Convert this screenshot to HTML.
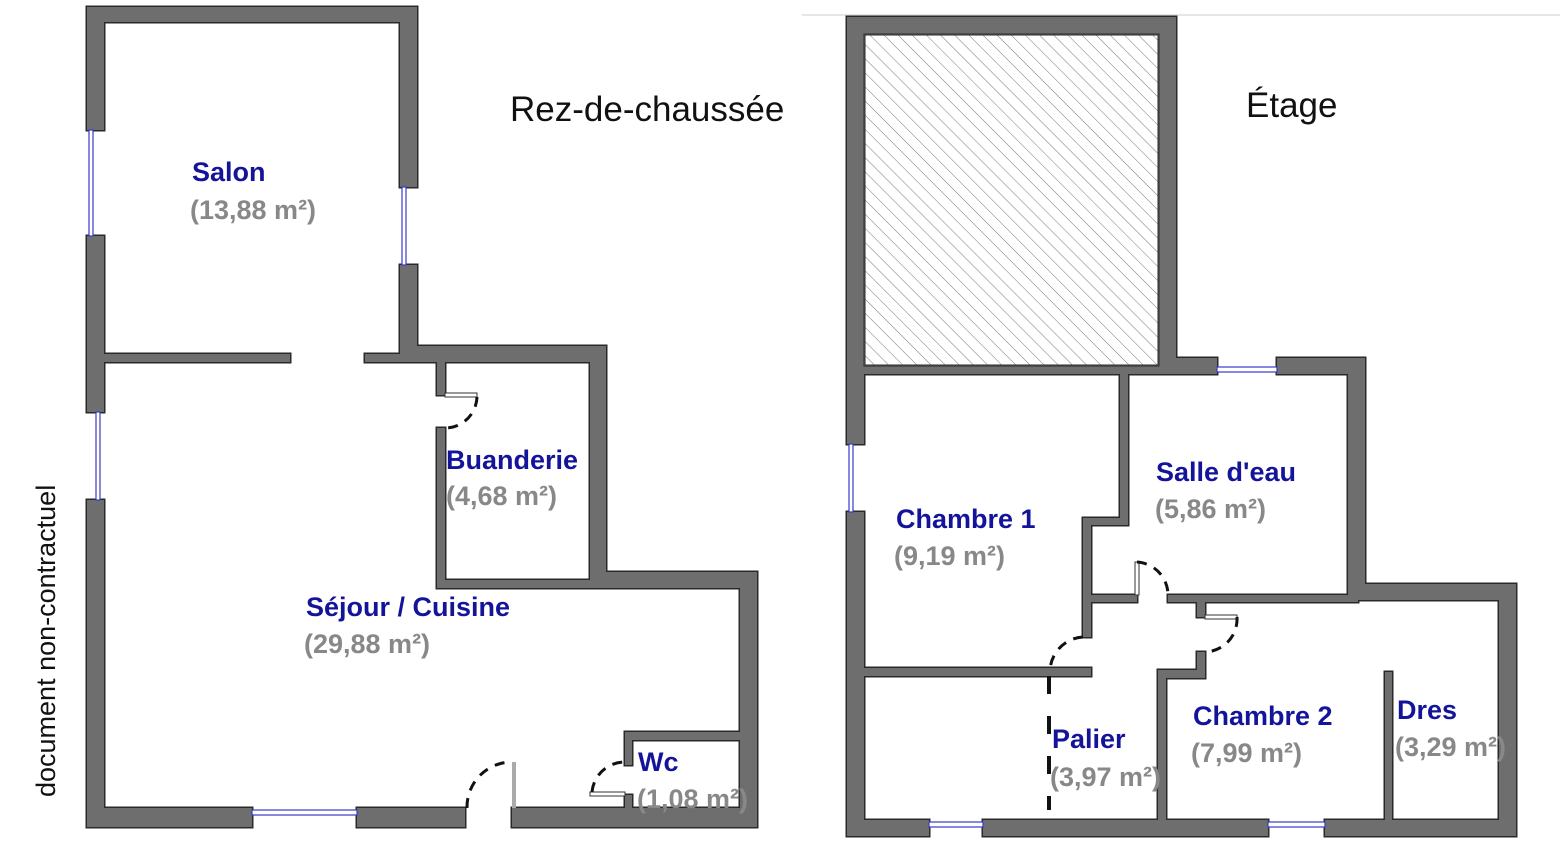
<!DOCTYPE html>
<html><head><meta charset="utf-8"><style>
html,body{margin:0;padding:0;background:#fff;}
svg{display:block;}
.lb{font-family:"Liberation Sans",sans-serif;font-weight:bold;font-size:27px;fill:#14149a;}
.ar{font-family:"Liberation Sans",sans-serif;font-weight:bold;font-size:27px;fill:#888;}
.ti{font-family:"Liberation Sans",sans-serif;font-size:35px;fill:#111;}
.win{stroke:#3a3acc;stroke-width:1.2;fill:#fff;}
.door{fill:none;stroke:#111;stroke-width:3;stroke-dasharray:10 8;}
</style></head><body>
<svg width="1566" height="842" viewBox="0 0 1566 842" xmlns="http://www.w3.org/2000/svg" xmlns:xlink="http://www.w3.org/1999/xlink">
<defs>
<pattern id="h" width="10" height="10" patternUnits="userSpaceOnUse" patternTransform="rotate(-45)">
<line x1="0" y1="0" x2="0" y2="10" stroke="#777" stroke-width="1"/>
</pattern>
<g id="W">
<rect x="87" y="7" width="330" height="15"/>
<rect x="87" y="7" width="17" height="123"/>
<rect x="87" y="236" width="17" height="176"/>
<rect x="87" y="500" width="17" height="327"/>
<rect x="400" y="7" width="17" height="180"/>
<rect x="400" y="265" width="17" height="97"/>
<rect x="104" y="354" width="186" height="8"/>
<rect x="365" y="354" width="52" height="8"/>
<rect x="400" y="346" width="206" height="16"/>
<rect x="590" y="346" width="16" height="242"/>
<rect x="437" y="362" width="8" height="33"/>
<rect x="437" y="428" width="8" height="160"/>
<rect x="437" y="580" width="153" height="8"/>
<rect x="590" y="572" width="167" height="16"/>
<rect x="740" y="572" width="17" height="255"/>
<rect x="87" y="808" width="165" height="19"/>
<rect x="357" y="808" width="108" height="19"/>
<rect x="512" y="808" width="245" height="19"/>
<rect x="625" y="732" width="115" height="8"/>
<rect x="625" y="732" width="7" height="33"/>
<rect x="625" y="795" width="7" height="13"/>
<rect x="847" y="17" width="329" height="17"/>
<rect x="847" y="17" width="17" height="427"/>
<rect x="847" y="512" width="17" height="324"/>
<rect x="1159" y="17" width="17" height="357"/>
<rect x="847" y="366" width="370" height="8"/>
<rect x="1159" y="358" width="58" height="16"/>
<rect x="1277" y="358" width="88" height="16"/>
<rect x="1348" y="358" width="17" height="242"/>
<rect x="1348" y="584" width="168" height="16"/>
<rect x="1499" y="584" width="17" height="252"/>
<rect x="847" y="820" width="82" height="16"/>
<rect x="983" y="820" width="285" height="16"/>
<rect x="1325" y="820" width="191" height="16"/>
<rect x="1120" y="374" width="8" height="150"/>
<rect x="1083" y="518" width="45" height="7"/>
<rect x="1083" y="518" width="8" height="119"/>
<rect x="1083" y="668" width="8" height="8"/>
<rect x="864" y="668" width="227" height="8"/>
<rect x="1083" y="595" width="54" height="7"/>
<rect x="1168" y="595" width="190" height="7"/>
<rect x="1197" y="595" width="8" height="22"/>
<rect x="1197" y="652" width="8" height="26"/>
<rect x="1158" y="670" width="47" height="8"/>
<rect x="1158" y="670" width="8" height="158"/>
<rect x="1385" y="672" width="7" height="156"/>
</g>
</defs>
<line x1="802" y1="15" x2="1560" y2="15" stroke="#ddd" stroke-width="1.5"/>
<rect x="864" y="34" width="295" height="332" fill="url(#h)"/>
<use xlink:href="#W" href="#W" fill="#6e6e6e" stroke="#2a2a2a" stroke-width="3"/>
<use xlink:href="#W" href="#W" fill="#6e6e6e" stroke="none"/>
<rect x="864" y="34" width="295" height="332" fill="none" stroke="#444" stroke-width="1.5"/>
<rect class="win" x="89" y="130" width="4" height="106"/>
<rect class="win" x="96" y="412" width="4" height="88"/>
<rect class="win" x="402" y="187" width="4" height="78"/>
<rect class="win" x="252" y="810" width="105" height="5"/>
<rect class="win" x="849" y="444" width="4" height="68"/>
<rect class="win" x="1217" y="367" width="60" height="5"/>
<rect class="win" x="929" y="822" width="54" height="5"/>
<rect class="win" x="1268" y="822" width="57" height="5"/>
<rect x="512" y="762" width="4" height="46" style="fill:#aaa"/>
<rect x="590" y="792" width="35" height="4" style="fill:#fff;stroke:#333;stroke-width:1"/>
<rect x="445" y="393" width="32" height="4" style="fill:#fff;stroke:#333;stroke-width:1"/>
<path class="door" d="M467 808 A45 45 0 0 1 512 762"/>
<path class="door" d="M592 792 A33 33 0 0 1 625 762"/>
<path class="door" d="M477 397 A32 32 0 0 1 445 428"/>
<rect x="1135" y="562" width="4" height="33" style="fill:#fff;stroke:#333;stroke-width:1"/>
<path class="door" d="M1137 562 A33 33 0 0 1 1168 595"/>
<rect x="1205" y="615" width="32" height="4" style="fill:#fff;stroke:#333;stroke-width:1"/>
<path class="door" d="M1237 617 A33 33 0 0 1 1205 652"/>
<path class="door" d="M1083 637 A35 35 0 0 0 1050 672"/>
<line x1="1049" y1="676" x2="1049" y2="810" stroke="#111" stroke-width="4" stroke-dasharray="18 22"/>
<text class="lb" x="192" y="181">Salon</text>
<text class="ar" x="190" y="219">(13,88 m²)</text>
<text class="lb" x="446" y="469">Buanderie</text>
<text class="ar" x="446" y="505">(4,68 m²)</text>
<text class="lb" x="306" y="616">Séjour / Cuisine</text>
<text class="ar" x="304" y="653">(29,88 m²)</text>
<text class="lb" x="638" y="771">Wc</text>
<text class="ar" x="637" y="808">(1,08 m²)</text>
<text class="ti" x="510" y="121">Rez-de-chaussée</text>
<text class="ti" x="1246" y="117">Étage</text>
<text x="55" y="797" transform="rotate(-90 55 797)" style="font-family:'Liberation Sans',sans-serif;font-size:27px;fill:#111">document non-contractuel</text>
<text class="lb" x="896" y="528">Chambre 1</text>
<text class="ar" x="894" y="565">(9,19 m²)</text>
<text class="lb" x="1156" y="481">Salle d'eau</text>
<text class="ar" x="1155" y="518">(5,86 m²)</text>
<text class="lb" x="1052" y="748">Palier</text>
<text class="ar" x="1050" y="786">(3,97 m²)</text>
<text class="lb" x="1193" y="725">Chambre 2</text>
<text class="ar" x="1191" y="762">(7,99 m²)</text>
<text class="lb" x="1397" y="719">Dres</text>
<text class="ar" x="1395" y="756">(3,29 m²)</text>
</svg>
</body></html>
